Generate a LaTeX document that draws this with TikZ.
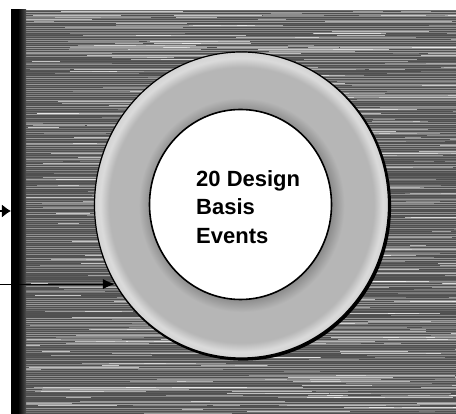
\documentclass[tikz,border=0pt]{standalone}
\usepackage{fontspec}
\setmainfont{Liberation Sans}
\usepackage{tikz}
\usetikzlibrary{arrows.meta, shapes.geometric}
\definecolor{dbgray}{HTML}{505050}
\definecolor{dbring}{HTML}{B6B6B6}
\definecolor{dbshade}{HTML}{8C8C8C}
\pgfdeclareradialshading{dbringshade}{\pgfpoint{0bp}{0bp}}{%
  color(0bp)=(dbshade); color(15.4bp)=(dbshade); color(17.5bp)=(dbring);
  color(22.5bp)=(dbring); color(24bp)=(white!50!dbring); color(25bp)=(white!40!dbring);
  color(50bp)=(white!40!dbring)}

\begin{document}
\begin{tikzpicture}[x=1pt, y=1pt,
  frame/.style={draw=black, line width=1.2pt, fill=dbgray, minimum width=460pt, minimum height=420pt, inner sep=0pt},
  ring/.style={ellipse, draw=black, line width=1.2pt, shading=dbringshade, minimum width=294pt, minimum height=306pt, inner sep=0pt},
  core/.style={ellipse, draw=black, line width=1.6pt, fill=white, minimum width=182pt, minimum height=190pt, inner sep=0pt},
  evtext/.style={font=\bfseries\fontsize{22}{28.8}\selectfont, align=left, inner sep=0pt, anchor=north west},
  arr/.style={-{Latex[length=9pt, width=13pt]}, line width=1.2pt},
  arrthin/.style={-{Latex[length=12pt, width=10pt]}, line width=1pt}
]
  \useasboundingbox (0,0) rectangle (456,414);
  \node[frame, anchor=north west] (frame) at (11,404) {};

  % streaky background
  \begin{scope}
    \clip (frame.south west) rectangle (frame.north east);
    \pgfmathsetseed{12}
    \foreach \k in {0,...,205}{
      \pgfmathsetmacro\op{0.45*rnd}
      \draw[white, line width=0.8pt, opacity=\op] (11,2*\k) -- (460,2*\k);
    }
    \foreach \k in {1,...,500}{
      \pgfmathsetmacro\sy{round(207*rnd)*2+1}
      \pgfmathsetmacro\sx{11+445*rnd}
      \pgfmathsetmacro\sl{15+120*rnd}
      \pgfmathsetmacro\op{0.2+0.5*rnd}
      \draw[white, line width=0.9pt, opacity=\op] (\sx,\sy) -- ++(\sl,0);
    }
    \shade[left color=black, right color=dbgray] (18,-10) rectangle (26,405);
    \fill[black] (11,-10) rectangle (18,405);
  \end{scope}

  \coordinate (ctr) at (241.5,209);
  \fill[black] (ctr) ++(1.6,-1.6) ellipse [x radius=148, y radius=154];
  \node[ring] (outer) at (ctr) {};
  \node[core] (inner) at (240.5,209.5) {};
  \node[evtext] (label) at (196,244) {20 Design\\Basis\\Events};

  \coordinate (in1) at (-6,203);
  \draw[arr] (in1) -- (in1 -| frame.west);
  \coordinate (hit2) at (outer.212.5);
  \draw[arrthin] (hit2 -| in1) -- (hit2);
\end{tikzpicture}
\end{document}
